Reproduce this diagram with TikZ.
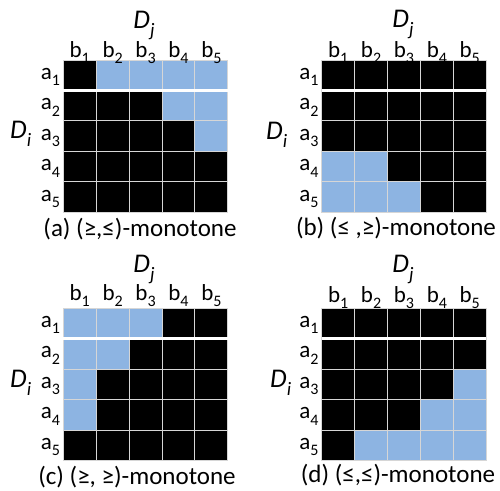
\documentclass[tikz,border=0pt]{standalone}
\usepackage{fontspec}
\setmainfont{Carlito}
\definecolor{cblue}{HTML}{8DB4E2}
\definecolor{gline}{HTML}{D6D6D6}
\newcommand\lsub[1]{\raisebox{-0.28em}{\fontsize{16}{16}\selectfont #1}}
\newcommand\isub[1]{\raisebox{-0.3em}{\fontsize{19}{19}\selectfont\itshape #1}}
\tikzset{
  cell/.style={draw=gline, line width=1pt},
  lab/.style={font=\fontsize{23}{23}\selectfont, inner sep=0pt, anchor=base},
  rlab/.style={font=\fontsize{23}{23}\selectfont, inner sep=0pt, anchor=base east},
  dlab/.style={font=\fontsize{27}{27}\selectfont\itshape, inner sep=0pt},
  captext/.style={font=\fontsize{25}{25}\selectfont, inner sep=0pt, anchor=base},
}
% #1 name, #2 x0, #3 y0, #4 rows, #5 b-label baseline
\newcommand\mypanel[5]{%
  \begin{scope}[shift={(#2,#3)}]
    \foreach \row [count=\r] in {#4} {
      \foreach \v [count=\c] in \row {
        \ifnum\v=1 \def\fc{cblue}\else\def\fc{black}\fi
        \path[cell, fill=\fc] ({(\c-1)*32.9},{(\r-1)*30.45}) rectangle ++(32.9,30.45);
      }
    }
    \draw[white, line width=3pt] (0,30.45) -- (164.5,30.45);
    \foreach \c in {1,...,5} {
      \node[lab] (#1b\c) at ({(\c-0.5)*32.9},#5) {b\lsub{\c}};
    }
    \foreach \r in {1,...,5} {
      \node[rlab] (#1a\r) at (-3,{(\r-0.5)*30.45+4}) {a\lsub{\r}};
    }
  \end{scope}}
\begin{document}
\begin{tikzpicture}[x=1pt,y=-1pt]
\useasboundingbox[fill=white] (0,0) rectangle (500,490);
\mypanel{A}{63.3}{60}{{0,1,1,1,1},{0,0,0,1,1},{0,0,0,0,1},{0,0,0,0,0},{0,0,0,0,0}}{-3}
\mypanel{B}{321.7}{60}{{0,0,0,0,0},{0,0,0,0,0},{0,0,0,0,0},{1,1,0,0,0},{1,1,1,0,0}}{-3}
\mypanel{C}{63.3}{308.3}{{1,1,1,0,0},{1,1,0,0,0},{1,0,0,0,0},{1,0,0,0,0},{0,0,0,0,0}}{-8}
\mypanel{D}{321.7}{308.3}{{0,0,0,0,0},{0,0,0,0,0},{0,0,0,0,1},{0,0,0,1,1},{0,1,1,1,1}}{-6}
% axis labels
\node[dlab, anchor=base] (ADj) at (144,28) {D\isub{j}};
\node[dlab, anchor=base] (BDj) at (403,27.5) {D\isub{j}};
\node[dlab, anchor=base] (CDj) at (144,272) {D\isub{j}};
\node[dlab, anchor=base] (DDj) at (403,272) {D\isub{j}};
\node[dlab, anchor=base west] (ADi) at (10,138.5) {D\isub{i}};
\node[dlab, anchor=base west] (BDi) at (266,139) {D\isub{i}};
\node[dlab, anchor=base west] (CDi) at (10,387) {D\isub{i}};
\node[dlab, anchor=base west] (DDi) at (270,387) {D\isub{i}};
% captions
\node[captext] (Acap) at (140,236.5) {(a) (≥,≤)-monotone};
\node[captext] (Bcap) at (396,235) {(b) (≤ ,≥)-monotone};
\node[captext] (Ccap) at (137,484) {(c) (≥, ≥)-monotone};
\node[captext] (Dcap) at (398,482) {(d) (≤,≤)-monotone};
\end{tikzpicture}
\end{document}
